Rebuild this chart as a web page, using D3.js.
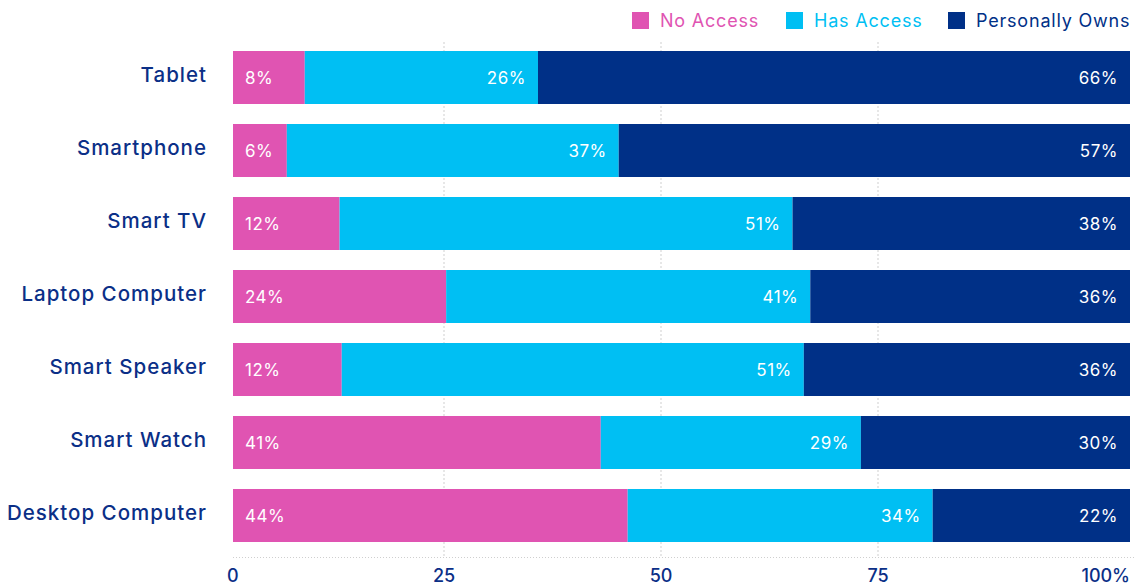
<!DOCTYPE html>
<html>
<head>
<meta charset="utf-8">
<script src="https://cdn.jsdelivr.net/npm/d3@7"></script>
<style>
  html, body { margin: 0; padding: 0; background: #fff; }
  svg { display: block; font-family: Inter, "Noto Sans", sans-serif; }
</style>
</head>
<body>
<svg id="chart" width="1135" height="587"></svg>
<script>
// Device access survey: share of respondents per device
const categories = ["Tablet", "Smartphone", "Smart TV", "Laptop Computer", "Smart Speaker", "Smart Watch", "Desktop Computer"];
const noAccess      = [8, 6, 12, 24, 12, 41, 44];
const hasAccess     = [26, 37, 51, 41, 51, 29, 34];
const personallyOwn = [66, 57, 38, 36, 36, 30, 22];
const seriesNames = ["No Access", "Has Access", "Personally Owns"];
const seriesKeys = ["noAccess", "hasAccess", "personallyOwn"];
const tickLabels = ["0", "25", "50", "75", "100%"];

const colors = { noAccess: "#e054b2", hasAccess: "#00bff3", personallyOwn: "#003087" };
const navy = "#0b2f87";

const rows = categories.map((c, i) => ({
  category: c,
  noAccess: noAccess[i],
  hasAccess: hasAccess[i],
  personallyOwn: personallyOwn[i]
}));

const stack = d3.stack().keys(seriesKeys).offset(d3.stackOffsetExpand);
const layers = stack(rows);

const svg = d3.select("#chart");

const x = d3.scaleLinear().domain([0, 1]).range([233, 1130]);
const y = d3.scaleBand().domain(categories).range([41, 552])
  .paddingInner(20 / 73).paddingOuter(10 / 73);
// grid/tick positions along the bottom axis
const tickPos = d3.scalePoint().domain(tickLabels).range([227, 1095]);

// grid
const grid = svg.append("g");
grid.selectAll("line.v").data(tickLabels.slice(1, 4)).join("line")
  .attr("x1", d => tickPos(d)).attr("x2", d => tickPos(d))
  .attr("y1", 42).attr("y2", 556)
  .attr("stroke", "#cfcfcf").attr("stroke-width", 1)
  .attr("stroke-dasharray", "2,2");
grid.append("line")
  .attr("x1", 233).attr("x2", 1135).attr("y1", 557.5).attr("y2", 557.5)
  .attr("stroke", "#cfcfcf").attr("stroke-width", 1).attr("stroke-dasharray", "1,2");

// bars
const barG = svg.append("g");
layers.forEach(layer => {
  barG.append("g").attr("fill", colors[layer.key])
    .selectAll("rect").data(layer).join("rect")
    .attr("x", d => x(d[0]))
    .attr("y", d => y(d.data.category))
    .attr("width", d => x(d[1]) - x(d[0]))
    .attr("height", y.bandwidth());
});

// value labels
const labelG = svg.append("g").attr("fill", "#fff")
  .style("font-size", "17px").style("letter-spacing", "0.5px");
layers.forEach((layer, li) => {
  labelG.selectAll(null).data(layer).join("text")
    .attr("x", d => li === 0 ? x(d[0]) + 12 : x(d[1]) - 12)
    .attr("y", d => y(d.data.category) + y.bandwidth() / 2 + 6)
    .attr("text-anchor", li === 0 ? "start" : "end")
    .text(d => d.data[layer.key] + "%");
});

// category labels
svg.append("g").selectAll("text").data(categories).join("text")
  .attr("x", 207)
  .attr("y", d => y(d) + y.bandwidth() / 2 + 4.5)
  .attr("text-anchor", "end")
  .attr("fill", navy)
  .style("font-size", "20.5px")
  .style("font-weight", 500)
  .style("letter-spacing", "1px")
  .text(d => d);

// bottom tick labels
svg.append("g").selectAll("text").data(tickLabels).join("text")
  .attr("x", (d, i) => i === tickLabels.length - 1 ? x(1) : tickPos(d))
  .attr("y", 582)
  .attr("text-anchor", (d, i) => i === 0 ? "start" : i === tickLabels.length - 1 ? "end" : "middle")
  .attr("fill", navy)
  .style("font-size", "18px")
  .style("font-weight", 500)
  .text(d => d);

// legend
const legendX = [632, 786, 948];
const legend = svg.append("g");
seriesKeys.forEach((k, i) => {
  const g = legend.append("g").attr("transform", `translate(${legendX[i]},12)`);
  g.append("rect").attr("width", 17).attr("height", 17).attr("fill", colors[k]);
  g.append("text").attr("x", 28).attr("y", 15)
    .attr("fill", colors[k]).style("font-size", "18px")
    .style("letter-spacing", "0.8px")
    .text(seriesNames[i]);
});
</script>
</body>
</html>
